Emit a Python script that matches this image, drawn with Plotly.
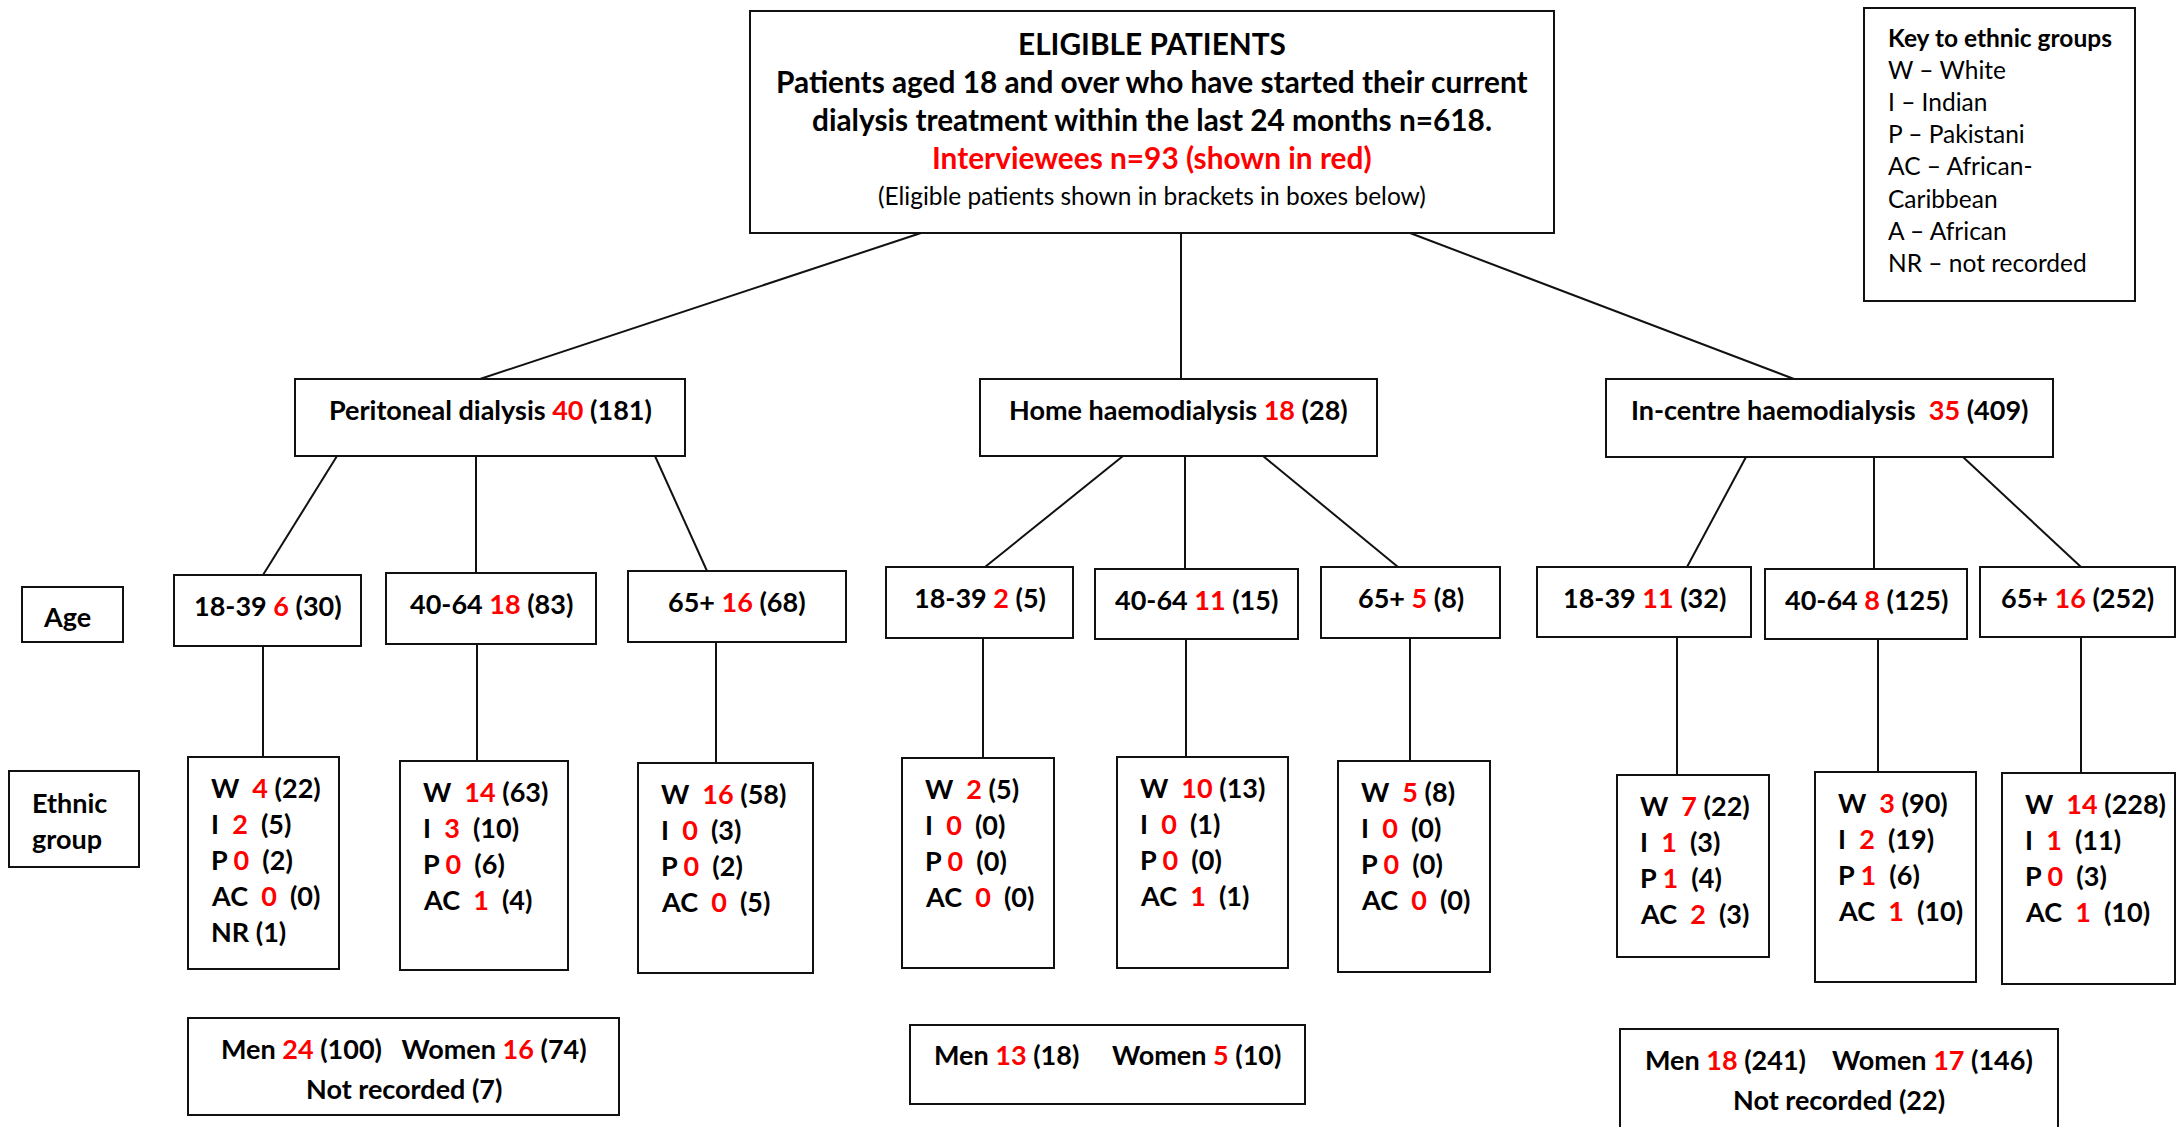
import plotly.graph_objects as go

# ---------------- DATA ----------------
total_eligible = 618
total_interviewed = 93

modalities = ["Peritoneal dialysis", "Home haemodialysis", "In-centre haemodialysis"]
modality_interviewed = [40, 18, 35]
modality_eligible = [181, 28, 409]

age_groups = ["18-39", "40-64", "65+"]
age_interviewed = [[6, 18, 16], [2, 11, 5], [11, 8, 16]]
age_eligible = [[30, 83, 68], [5, 15, 8], [32, 125, 252]]

ethnic_codes = ["W", "I", "P", "AC", "NR"]
ethnic_interviewed = [
    [[4, 2, 0, 0, None], [14, 3, 0, 1, None], [16, 0, 0, 0, None]],
    [[2, 0, 0, 0, None], [10, 0, 0, 1, None], [5, 0, 0, 0, None]],
    [[7, 1, 1, 2, None], [3, 2, 1, 1, None], [14, 1, 0, 1, None]],
]
ethnic_eligible = [
    [[22, 5, 2, 0, 1], [63, 10, 6, 4, None], [58, 3, 2, 5, None]],
    [[5, 0, 0, 0, None], [13, 1, 0, 1, None], [8, 0, 0, 0, None]],
    [[22, 3, 4, 3, None], [90, 19, 6, 10, None], [228, 11, 3, 10, None]],
]

men_interviewed = [24, 13, 18]
men_eligible = [100, 18, 241]
women_interviewed = [16, 5, 17]
women_eligible = [74, 10, 146]
sex_not_recorded = [7, None, 22]

key_title = "Key to ethnic groups"
key_lines = ["W \u2013 White", "I \u2013 Indian", "P \u2013 Pakistani", "AC \u2013 African-",
             "Caribbean", "A \u2013 African", "NR \u2013 not recorded"]

# ---------------- LAYOUT (positions / styles) ----------------
W, H = 2179, 1127
RED = "#FF0000"
FONT = "Lato, 'Open Sans', sans-serif"
S_TOP, S_BOX, S_KEY = 29.8, 27, 24.5
NB = "\u00a0"

top_box = (750, 11, 1554, 233)
key_box = (1864, 8, 2135, 301)
age_label_box = (22, 587, 123, 642)
eth_label_box = (9, 771, 139, 867)
mod_boxes = [(295, 379, 685, 456), (980, 379, 1377, 456), (1606, 379, 2053, 457)]
age_boxes = [
    [(174, 575, 361, 646), (386, 573, 596, 644), (628, 571, 846, 642)],
    [(886, 567, 1073, 638), (1095, 569, 1298, 639), (1321, 567, 1500, 638)],
    [(1537, 567, 1751, 637), (1765, 569, 1967, 639), (1980, 567, 2175, 637)],
]
eth_boxes = [
    [(188, 757, 339, 969), (400, 761, 568, 970), (638, 763, 813, 973)],
    [(902, 758, 1054, 968), (1117, 757, 1288, 968), (1338, 761, 1490, 972)],
    [(1617, 775, 1769, 957), (1815, 772, 1976, 982), (2002, 773, 2175, 984)],
]
sex_boxes = [(188, 1018, 619, 1115), (910, 1025, 1305, 1104), (1620, 1029, 2058, 1140)]
sex_gaps = [3, 5, 4]

top_out_x = [921, 1181, 1410]
mod_in_x = [480, 1181, 1794]
mod_out_x = [[337, 476, 655], [1123, 1185, 1263], [1746, 1874, 1963]]
age_in_x = [[263, 476, 707], [985, 1185, 1398], [1687, 1874, 2081]]
age_down_x = [[263, 477, 716], [983, 1186, 1410], [1677, 1878, 2081]]

# spacing after code / after red number, per ethnic row
eth_sep = {"W": (2, 1), "I": (2, 2), "P": (1, 2), "AC": (2, 2), "NR": (0, 1)}

fig = go.Figure()
shapes = []
annotations = []


def rect(b, width=2):
    shapes.append(dict(type="rect", xref="x", yref="y", x0=b[0], y0=b[1], x1=b[2], y1=b[3],
                       line=dict(color="#111111", width=width), fillcolor="rgba(0,0,0,0)"))


def line(x0, y0, x1, y1):
    shapes.append(dict(type="line", xref="x", yref="y", x0=x0, y0=y0, x1=x1, y1=y1,
                       line=dict(color="#111111", width=2)))


def text(x, y, t, size=S_BOX, anchor="center", color="#000000"):
    annotations.append(dict(x=x, y=y, xref="x", yref="y", text=t, showarrow=False,
                            xanchor=anchor, yanchor="middle", align=anchor if anchor != "center" else "center",
                            font=dict(family=FONT, size=size, color=color)))


def red(v):
    return f"<span style='color:{RED}'>{v}</span>"


# top box
rect(top_box)
cx = (top_box[0] + top_box[2]) / 2
text(cx, 43, "<b>ELIGIBLE PATIENTS</b>", S_TOP)
text(cx, 81, "<b>Patients aged 18 and over who have started their current</b>", S_TOP)
text(cx, 119, f"<b>dialysis treatment within the last 24 months n={total_eligible}.</b>", S_TOP)
text(cx, 157, f"<b>Interviewees n={total_interviewed} (shown in red)</b>", S_TOP, color=RED)
text(cx, 195, "(Eligible patients shown in brackets in boxes below)", S_KEY)

# key
rect(key_box)
text(1886, 37, f"<b>{key_title}</b>", S_KEY, anchor="left")
for i, kl in enumerate(key_lines):
    text(1886, 69 + 32.3 * i, kl, S_KEY, anchor="left")

# row labels
rect(age_label_box)
text(67, 616, "<b>Age</b>", S_BOX)
rect(eth_label_box)
text(30, 802, "<b>Ethnic</b>", S_BOX, anchor="left")
text(30, 838, "<b>group</b>", S_BOX, anchor="left")

for m in range(3):
    mb = mod_boxes[m]
    rect(mb)
    line(top_out_x[m], top_box[3], mod_in_x[m], mb[1])
    gap = NB if m < 2 else NB * 2
    text((mb[0] + mb[2]) / 2, mb[1] + 30,
         f"<b>{modalities[m]}{gap}{red(modality_interviewed[m])} ({modality_eligible[m]})</b>")
    for a in range(3):
        ab = age_boxes[m][a]
        eb = eth_boxes[m][a]
        rect(ab)
        rect(eb)
        line(mod_out_x[m][a], mb[3], age_in_x[m][a], ab[1])
        line(age_down_x[m][a], ab[3], age_down_x[m][a], eb[1])
        text((ab[0] + ab[2]) / 2, ab[1] + 30,
             f"<b>{age_groups[a]} {red(age_interviewed[m][a])} ({age_eligible[m][a]})</b>")
        row = 0
        for k, code in enumerate(ethnic_codes):
            e = ethnic_eligible[m][a][k]
            if e is None:
                continue
            s1, s2 = eth_sep[code]
            iv = ethnic_interviewed[m][a][k]
            mid = (NB * s1 + red(iv) + NB * s2) if iv is not None else NB * s2
            text(eb[0] + 21, eb[1] + 30 + 36 * row, f"<b>{code}{mid}({e})</b>", anchor="left")
            row += 1
    sb = sex_boxes[m]
    rect(sb)
    scx = (sb[0] + sb[2]) / 2
    l1 = (f"<b>Men {red(men_interviewed[m])} ({men_eligible[m]}){NB * sex_gaps[m]}"
          f"Women {red(women_interviewed[m])} ({women_eligible[m]})</b>")
    if sex_not_recorded[m] is None:
        text(scx, sb[1] + 29, l1)
    else:
        text(scx, sb[1] + 30, l1)
        text(scx, sb[1] + 70, f"<b>Not recorded ({sex_not_recorded[m]})</b>")

fig.update_layout(
    width=W, height=H, margin=dict(l=0, r=0, t=0, b=0),
    paper_bgcolor="white", plot_bgcolor="white",
    xaxis=dict(range=[0, W], visible=False, fixedrange=True),
    yaxis=dict(range=[H, 0], visible=False, fixedrange=True),
    shapes=shapes, annotations=annotations, showlegend=False,
)
fig.write_html("out.html", include_plotlyjs=True, config={"displayModeBar": False},
               post_script="document.body.style.margin='0';document.documentElement.style.overflow='hidden';")
